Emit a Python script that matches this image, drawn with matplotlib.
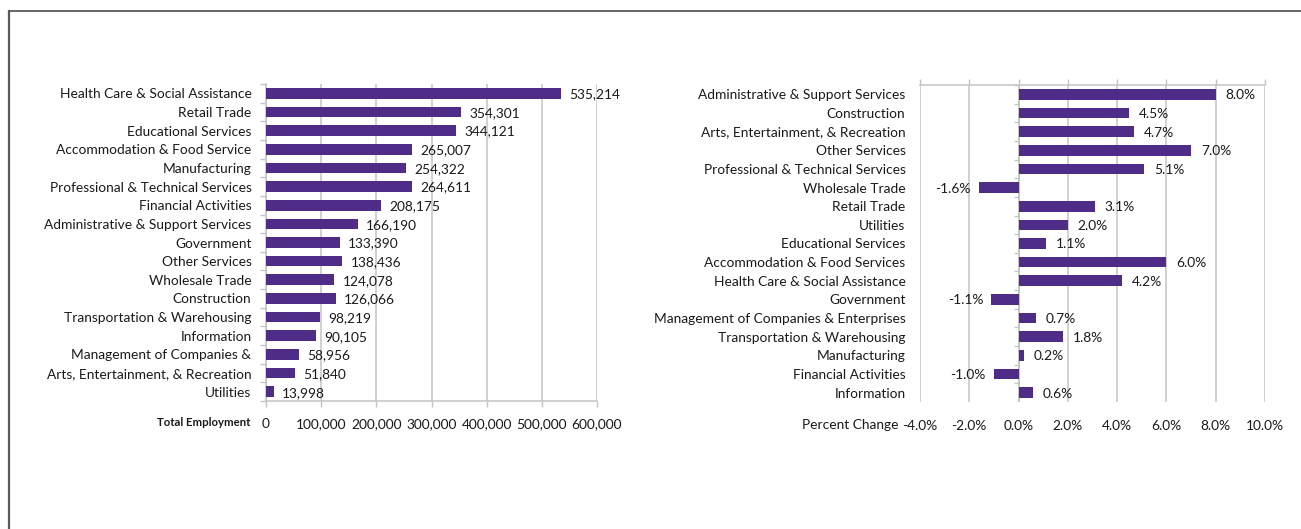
import matplotlib
matplotlib.use("Agg")
import matplotlib.pyplot as plt
from matplotlib.lines import Line2D
import numpy as np

plt.rcParams['font.family'] = ['Lato', 'DejaVu Sans']

# ---------------- data ----------------
emp_categories = [
    "Health Care & Social Assistance", "Retail Trade", "Educational Services",
    "Accommodation & Food Service", "Manufacturing",
    "Professional & Technical Services", "Financial Activities",
    "Administrative & Support Services", "Government", "Other Services",
    "Wholesale Trade", "Construction", "Transportation & Warehousing",
    "Information", "Management of Companies &",
    "Arts, Entertainment, & Recreation", "Utilities",
]
emp_values = [535214, 354301, 344121, 265007, 254322, 264611, 208175, 166190,
              133390, 138436, 124078, 126066, 98219, 90105, 58956, 51840, 13998]
emp_ticks = [0, 100000, 200000, 300000, 400000, 500000, 600000]

pct_categories = [
    "Administrative & Support Services", "Construction",
    "Arts, Entertainment, & Recreation", "Other Services",
    "Professional & Technical Services", "Wholesale Trade", "Retail Trade",
    "Utilities", "Educational Services", "Accommodation & Food Services",
    "Health Care & Social Assistance", "Government",
    "Management of Companies & Enterprises", "Transportation & Warehousing",
    "Manufacturing", "Financial Activities", "Information",
]
pct_values = [8.0, 4.5, 4.7, 7.0, 5.1, -1.6, 3.1, 2.0, 1.1, 6.0, 4.2, -1.1,
              0.7, 1.8, 0.2, -1.0, 0.6]
pct_ticks = [-4, -2, 0, 2, 4, 6, 8, 10]

# ---------------- style ----------------
PURPLE = "#4f2c88"
GRID = "#c4c4c4"
TXT = "#1a1a1a"
FS = 9.9

W, H = 1301, 529
fig = plt.figure(figsize=(W / 100, H / 100), dpi=100)


def rect(l, t, r, b):
    return [l / W, 1 - b / H, (r - l) / W, (b - t) / H]


# ---------------- left panel ----------------
ax1 = fig.add_axes(rect(266, 84, 597, 401))
n1 = len(emp_categories)
y1 = np.arange(n1)
ax1.barh(y1, emp_values, height=0.57, color=PURPLE, zorder=3)
ax1.set_ylim(n1 - 0.5, -0.5)
ax1.set_xlim(emp_ticks[0], emp_ticks[-1])
ax1.set_yticks(y1)
ax1.set_yticklabels(emp_categories, fontsize=FS, color=TXT, va='center_baseline')
ax1.set_yticks(np.arange(-0.5, n1, 1.0), minor=True)
ax1.tick_params(axis='y', which='major', length=0, pad=10.5)
ax1.tick_params(axis='y', which='minor', length=4, width=1, color=GRID)
ax1.set_xticks(emp_ticks)
ax1.set_xticklabels([f"{v:,}" for v in emp_ticks], fontsize=FS, color=TXT)
ax1.tick_params(axis='x', length=4, width=1, color=GRID, pad=8)
ax1.grid(axis='x', color=GRID, lw=1.1, zorder=0)
ax1.set_axisbelow(True)
for s in ['top', 'right']:
    ax1.spines[s].set_visible(False)
for s in ['left', 'bottom']:
    ax1.spines[s].set_color(GRID)
    ax1.spines[s].set_linewidth(1.1)
for i, v in enumerate(emp_values):
    ax1.annotate(f"{v:,}", xy=(v, i), xytext=(6, 0), textcoords='offset points',
                 ha='left', va='center_baseline', fontsize=FS, color=TXT)

fig.text(250 / W, 1 - 421.5 / H, "Total Employment", ha='right',
         va='center_baseline', fontsize=8.2, fontweight='bold', color=TXT)

# ---------------- right panel ----------------
ax2 = fig.add_axes(rect(920, 85, 1265, 402))
n2 = len(pct_categories)
y2 = np.arange(n2)
ax2.barh(y2, pct_values, height=0.57, color=PURPLE, zorder=3)
ax2.set_ylim(n2 - 0.5, -0.5)
ax2.set_xlim(pct_ticks[0], pct_ticks[-1])
ax2.set_yticks(y2)
ax2.set_yticklabels(pct_categories, fontsize=FS, color=TXT, va='center_baseline')
ax2.tick_params(axis='y', which='major', length=0, pad=10.5)
ax2.set_xticks(pct_ticks)
ax2.set_xticklabels([f"{v:.1f}%" for v in pct_ticks], fontsize=FS, color=TXT)
ax2.tick_params(axis='x', bottom=False, top=True, labelbottom=True,
                labeltop=False, length=4, width=1, color=GRID, pad=9)
ax2.grid(axis='x', color=GRID, lw=1.1, zorder=0)
ax2.set_axisbelow(True)
for s in ['left', 'right', 'bottom']:
    ax2.spines[s].set_visible(False)
ax2.spines['top'].set_color(GRID)
ax2.spines['top'].set_linewidth(1.1)
# category axis drawn at zero with boundary ticks
ax2.axvline(0, color=GRID, lw=1.1, zorder=2)
ax2.hlines(np.arange(-0.5, n2, 1.0), -0.17, 0, color=GRID, lw=1.0, zorder=2)
for i, v in enumerate(pct_values):
    if v >= 0:
        ax2.annotate(f"{v:.1f}%", xy=(v, i), xytext=(7, 0),
                     textcoords='offset points', ha='left',
                     va='center_baseline', fontsize=FS, color=TXT)
    else:
        ax2.annotate(f"{v:.1f}%", xy=(v, i), xytext=(-6, 0),
                     textcoords='offset points', ha='right',
                     va='center_baseline', fontsize=FS, color=TXT)

fig.text(898 / W, 1 - 424 / H, "Percent Change", ha='right',
         va='center_baseline', fontsize=FS, color=TXT)

# ---------------- frame lines ----------------
fig.add_artist(Line2D([8.5 / W, 1.0], [1 - 10.5 / H, 1 - 10.5 / H],
                      transform=fig.transFigure, color="#5a5a5a", lw=1.3))
fig.add_artist(Line2D([8.5 / W, 8.5 / W], [0, 1 - 10.5 / H],
                      transform=fig.transFigure, color="#5a5a5a", lw=1.6))

fig.savefig("out.png", dpi=100)
